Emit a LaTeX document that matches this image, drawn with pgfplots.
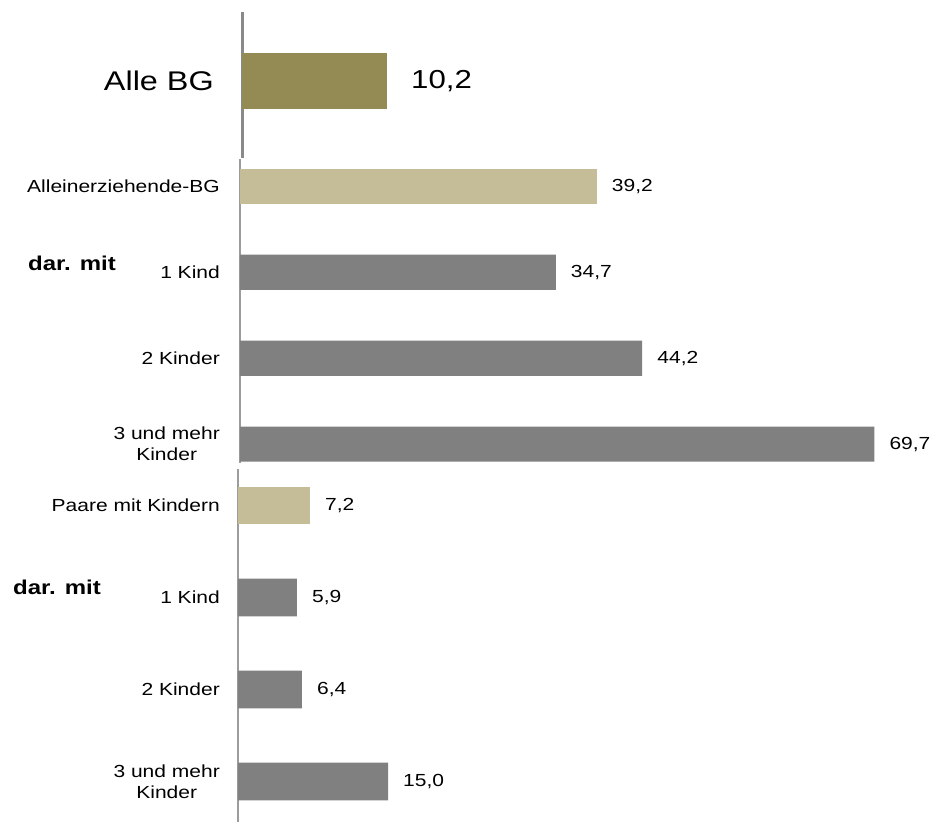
\documentclass[border=0pt]{standalone}
\usepackage{fontspec}
\setmainfont{Liberation Sans}[FakeStretch=1.2]
\usepackage{pgfplots}
\pgfplotsset{compat=1.18}
\definecolor{olivebar}{HTML}{948A54}
\definecolor{khakibar}{HTML}{C4BD97}
\definecolor{graybar}{HTML}{808080}
\definecolor{axgray}{HTML}{8A8A8A}
\definecolor{axlight}{HTML}{9C9C9C}
\newcommand{\smallf}{\fontsize{17.5pt}{21pt}\selectfont}
\begin{document}
\begin{tikzpicture}[x=1pt,y=1pt]
\path[use as bounding box] (0pt,0pt) rectangle (935pt,822pt);
\pgfplotsset{
  hbar/.style={
    scale only axis, clip=false, xbar, bar shift=0pt, y dir=reverse,
    axis x line=none, axis y line=left,
    axis line style={-},
    enlargelimits=false, xmin=0,
    ytick=data, major tick length=0pt, tick style={draw=none},
    yticklabel style={inner sep=0pt, align=center, font=\smallf},
    point meta=x, nodes near coords,
    nodes near coords style={anchor=west, inner sep=0pt, font=\smallf, xshift=15pt},
    /pgf/number format/.cd, use comma, fixed, fixed zerofill, precision=1, assume math mode=true,
  }
}
% Top: Alle BG
\begin{axis}[hbar, at={(242pt,664pt)}, anchor=south west, width=690pt, height=146pt,
  xmax=48.54, ymin=-0.69, ymax=0.77, bar width=0.56,
  axis line style={-, axgray, line width=3pt},
  ytick={0}, yticklabels={Alle BG},
  yticklabel style={font=\fontsize{27pt}{31pt}\selectfont, xshift=-28pt},
  nodes near coords style={font=\fontsize{26pt}{30pt}\selectfont, xshift=9pt}]
\addplot[fill=olivebar, draw=none] coordinates {(10.2,0)};
\end{axis}
% Middle: Alleinerziehende
\begin{axis}[hbar, at={(240pt,359pt)}, anchor=south west, width=690pt, height=304pt,
  xmax=75.82, ymin=-0.32, ymax=3.22, bar width=0.41,
  axis line style={-, axlight, line width=1.5pt},
  ytick={0,1,2,3}, yticklabels={Alleinerziehende-BG, 1 Kind, 2 Kinder, {3 und mehr\\Kinder}},
  yticklabel style={xshift=-20pt}]
\addplot[fill=khakibar, draw=none] coordinates {(39.2,0)};
\addplot[fill=graybar, draw=none] coordinates {(34.7,1) (44.2,2) (69.7,3)};
\end{axis}
% Lower: Paare mit Kindern
\begin{axis}[hbar, at={(238pt,0pt)}, anchor=south west, width=690pt, height=353pt,
  xmax=69.0, ymin=-0.397, ymax=3.44, bar width=0.41,
  axis line style={-, axlight, line width=1.5pt},
  ytick={0,1,2,3}, yticklabels={Paare mit Kindern, 1 Kind, 2 Kinder, {3 und mehr\\Kinder}},
  yticklabel style={xshift=-18pt}]
\addplot[fill=khakibar, draw=none] coordinates {(7.2,0)};
\addplot[fill=graybar, draw=none] coordinates {(5.9,1) (6.4,2) (15.0,3)};
\end{axis}
\node[anchor=west, inner sep=0pt, font=\fontsize{20pt}{24pt}\selectfont\bfseries] at (28pt,559pt) {dar. mit};
\node[anchor=west, inner sep=0pt, font=\fontsize{20pt}{24pt}\selectfont\bfseries] at (13pt,235pt) {dar. mit};
\end{tikzpicture}
\end{document}
